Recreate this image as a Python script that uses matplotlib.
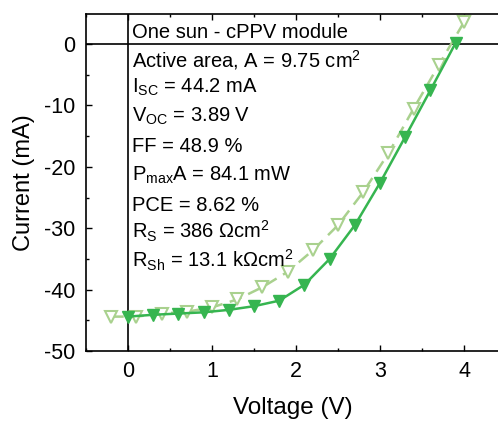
import matplotlib
matplotlib.use("Agg")
import matplotlib.pyplot as plt
from matplotlib.ticker import MultipleLocator

plt.rcParams['font.family'] = ['Liberation Sans', 'DejaVu Sans']
plt.rcParams['mathtext.fontset'] = 'custom'
plt.rcParams['mathtext.rm'] = 'Liberation Sans'
plt.rcParams['mathtext.it'] = 'Liberation Sans'
plt.rcParams['axes.unicode_minus'] = False

# forward scan (filled) and reverse scan (open)
v_fill = [0.0, 0.3, 0.6, 0.9, 1.2, 1.5, 1.8, 2.1, 2.4, 2.7, 3.0, 3.3, 3.6, 3.9]
i_fill = [-44.4, -44.1, -43.9, -43.7, -43.3, -42.7, -41.8, -39.2, -35.0,
          -29.5, -22.6, -15.1, -7.5, 0.2]
v_open = [-0.2, 0.1, 0.4, 0.7, 1.0, 1.3, 1.6, 1.9, 2.2, 2.5, 2.8, 3.1, 3.4, 3.7, 4.0]
i_open = [-44.4, -44.4, -43.9, -43.6, -42.9, -41.6, -39.6, -37.1, -33.6,
          -29.5, -24.1, -17.8, -10.5, -3.4, 3.6]

info = [
    "One sun - cPPV module",
    r"Active area, A = 9.75 cm$^\mathregular{2}$",
    r"I$_\mathregular{SC}$ = 44.2 mA",
    r"V$_\mathregular{OC}$ = 3.89 V",
    "FF = 48.9 %",
    r"P$_\mathregular{max}$A = 84.1 mW",
    "PCE = 8.62 %",
    r"R$_\mathregular{S}$ = 386 $\mathregular{\Omega}$cm$^\mathregular{2}$",
    r"R$_\mathregular{Sh}$ = 13.1 k$\mathregular{\Omega}$cm$^\mathregular{2}$",
]
info_y = [1.0, -3.7, -8.0, -12.7, -17.5, -22.2, -27.2, -31.6, -36.4]

dark = '#36b550'
light = '#a9d18e'

fig = plt.figure(figsize=(4.98, 4.21), dpi=100)
ax = fig.add_axes([0.1727, 0.1663, 0.83, 0.8004])

ax.axhline(0, color='black', lw=1.2, zorder=1)
ax.axvline(0, color='black', lw=1.2, zorder=1)

ax.plot(v_open, i_open, ls=(0, (5, 3)), color=light, lw=1.8, marker='v',
        markersize=8.5, markerfacecolor='white', markeredgecolor=light,
        markeredgewidth=1.5, zorder=2)
ax.plot(v_fill, i_fill, ls='-', color=dark, lw=1.8, marker='v',
        markersize=8.5, markerfacecolor=dark, markeredgecolor=dark, zorder=3)

for s, y in zip(info, info_y):
    ax.text(0.05, y, s, fontsize=14.5, va='baseline', ha='left', zorder=4)

ax.set_xlim(-0.5, 4.42)
ax.set_ylim(-50, 4.9)
ax.xaxis.set_major_locator(MultipleLocator(1))
ax.xaxis.set_minor_locator(MultipleLocator(0.5))
ax.yaxis.set_major_locator(MultipleLocator(10))
ax.yaxis.set_minor_locator(MultipleLocator(5))
ax.tick_params(which='both', direction='in', top=True, right=False,
               labelsize=15.5)
ax.tick_params(which='major', length=4, width=1)
ax.tick_params(which='minor', length=2.5, width=1)
ax.tick_params(axis='x', pad=7)
ax.tick_params(axis='y', pad=8)

for sp in ax.spines.values():
    sp.set_linewidth(1.2)

ax.set_xlabel("Voltage (V)", fontsize=17.5, labelpad=11)
ax.set_ylabel("Current (mA)", fontsize=17, labelpad=6)

fig.savefig("out.png", dpi=100)
